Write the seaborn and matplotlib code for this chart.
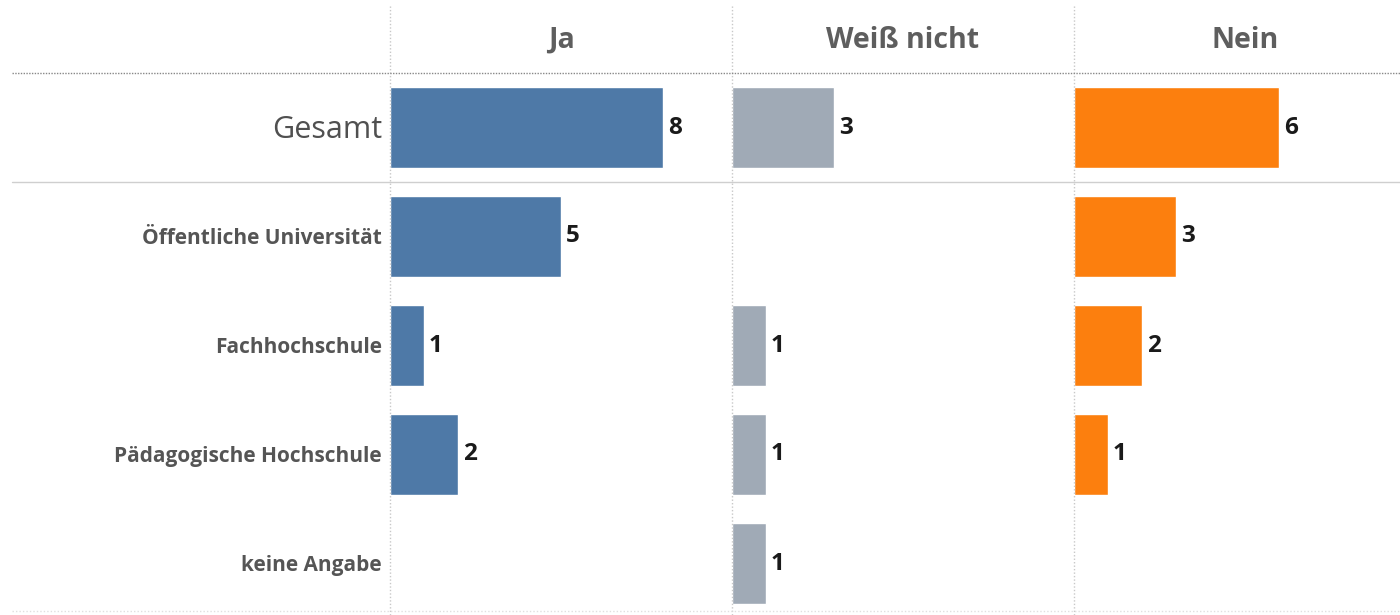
import pandas as pd
import seaborn as sns
import matplotlib.pyplot as plt
from matplotlib.lines import Line2D

# data
gruppen = ['Gesamt', 'Öffentliche Universität', 'Fachhochschule',
           'Pädagogische Hochschule', 'keine Angabe']
antworten = ['Ja', 'Weiß nicht', 'Nein']
ja = [8, 5, 1, 2, 0]
weiss_nicht = [3, 0, 1, 1, 1]
nein = [6, 3, 2, 1, 0]

df = pd.DataFrame({
    'Gruppe': gruppen * 3,
    'Antwort': ['Ja'] * 5 + ['Weiß nicht'] * 5 + ['Nein'] * 5,
    'Anzahl': ja + weiss_nicht + nein,
})

farben = {'Ja': '#4e79a7', 'Weiß nicht': '#a0aab6', 'Nein': '#fc7f0e'}

sns.set_style('white')
plt.rcParams['font.family'] = ['Open Sans', 'DejaVu Sans']

W, H = 1400, 615
fig = plt.figure(figsize=(14, 6.15), dpi=100)

# panel layout in pixels: left edge, width
panels = [(390, 342), (732, 342), (1074, 326)]
px_per_unit = 34.15
top, row_h = 73, 109

for (left, width), antwort in zip(panels, antworten):
    ax = fig.add_axes([left / W, 0, width / W, (H - top) / H])
    sub = df[(df['Antwort'] == antwort) & (df['Anzahl'] > 0)]
    sns.barplot(data=sub, x='Anzahl', y='Gruppe', order=gruppen,
                color=farben[antwort], width=0.75, saturation=1, ax=ax)
    ax.set_xlim(0, width / px_per_unit)
    ax.set_ylim(-0.5 + (H - top) / row_h, -0.5)
    for c in ax.containers:
        ax.bar_label(c, padding=3.5, fontsize=17.5, color='#1a1a1a',
                     fontweight='bold')
    ax.axis('off')
    # column header
    fig.text((left + 171) / W, 1 - 40 / H, antwort, ha='center', va='center',
             fontsize=20.5, fontweight='bold', color='#5e5e5e')

# row labels
for i, g in enumerate(gruppen):
    y = 1 - (top + row_h * (i + 0.5) + 2) / H
    if i == 0:
        fig.text(382 / W, y, g, ha='right', va='center', fontsize=22,
                 color='#505050')
    else:
        fig.text(382 / W, y, g, ha='right', va='center', fontsize=15,
                 fontweight='bold', color='#555555')

# grid lines
for x in (390, 732, 1074):
    fig.add_artist(Line2D([x / W, x / W], [0, 1 - 5 / H], color='#c8c8c8',
                          lw=1, ls=(0, (1, 1.5))))
fig.add_artist(Line2D([12 / W, 1], [1 - 73 / H] * 2, color='#888888',
                      lw=1, ls=(0, (1, 1))))
fig.add_artist(Line2D([12 / W, 1], [1 - 182 / H] * 2, color='#cfcfcf', lw=1))
fig.add_artist(Line2D([12 / W, 1], [1 - 611 / H] * 2, color='#e0e0e0',
                      lw=1, ls=(0, (1, 1.5))))

fig.savefig('out.png', dpi=100)
